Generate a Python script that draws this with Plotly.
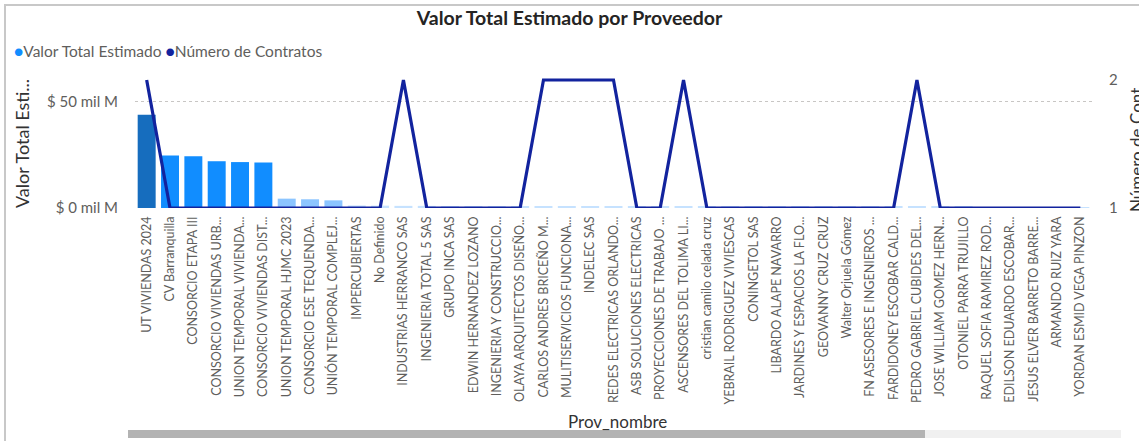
import plotly.graph_objects as go

proveedores = [
    "UT VIVIENDAS 2024", "CV Barranquilla", "CONSORCIO ETAPA III",
    "CONSORCIO VIVIENDAS URB...", "UNION TEMPORAL VIVIENDA...",
    "CONSORCIO VIVIENDAS DIST...", "UNION TEMPORAL HJMC 2023",
    "CONSORCIO ESE TEQUENDA...", "UNIÓN TEMPORAL COMPLEJ...",
    "IMPERCUBIERTAS", "No Definido", "INDUSTRIAS HERRANCO SAS",
    "INGENIERIA TOTAL 5 SAS", "GRUPO INCA SAS", "EDWIN HERNANDEZ LOZANO",
    "INGENIERIA Y CONSTRUCCIO...", "OLAYA ARQUITECTOS DISEÑO...",
    "CARLOS ANDRES BRICEÑO M...", "MULITISERVICIOS FUNCIONA...",
    "INDELEC SAS", "REDES ELECTRICAS ORLANDO...", "ASB SOLUCIONES ELECTRICAS",
    "PROYECCIONES DE TRABAJO ...", "ASCENSORES DEL TOLIMA LI...",
    "cristian camilo celada cruz", "YEBRAIL RODRIGUEZ VIVIESCAS",
    "CONINGETOL SAS", "LIBARDO ALAPE NAVARRO", "JARDINES Y ESPACIOS LA FLO...",
    "GEOVANNY CRUZ CRUZ", "Walter Orjuela Gómez", "FN ASESORES E INGENIEROS ...",
    "FARDIDONEY ESCOBAR CALD...", "PEDRO GABRIEL CUBIDES DEL...",
    "JOSE WILLIAM GOMEZ HERN...", "OTONIEL PARRA TRUJILLO",
    "RAQUEL SOFIA RAMIREZ ROD...", "EDILSON EDUARDO ESCOBAR...",
    "JESUS ELVER BARRETO BARRE...", "ARMANDO RUIZ YARA",
    "YORDAN ESMID VEGA PINZON",
]

# Valor total estimado, en miles de millones ("mil M")
valor_total = [
    43.9, 24.7, 24.4, 22.0, 21.6, 21.4, 4.4, 4.1, 3.6,
    1.2, 1.1, 1.0, 1.0, 0.95, 0.9, 0.9, 0.85, 0.85, 0.8, 0.8,
    0.8, 0.75, 0.75, 0.7, 0.7, 0.7, 0.65, 0.65, 0.6, 0.6,
    0.6, 0.55, 0.55, 0.5, 0.5, 0.5, 0.45, 0.45, 0.4, 0.4, 0.35,
]

numero_contratos = [
    2, 1, 1, 1, 1, 1, 1, 1, 1, 1, 1, 2, 1, 1, 1, 1, 1, 2, 2, 2,
    2, 1, 1, 2, 1, 1, 1, 1, 1, 1, 1, 1, 1, 2, 1, 1, 1, 1, 1, 1, 1,
]

bar_colors = (["#166DBE"] + ["#118DFF"] * 5 + ["#8CC5FF"] * 3
              + ["#C6E2FF"] * (len(proveedores) - 9))

W, H = 1139, 441
L, R, T, B = 135, 47, 74, 233
PW, PH = W - L - R, H - T - B
BOTTOM = H - B


def px_x(x):
    return (x - L) / PW


def px_y(y):
    return (BOTTOM - y) / PH


FONT = "Segoe UI, Lato, sans-serif"
GREY = "#605E5C"
DARK = "#333333"

fig = go.Figure()
fig.add_trace(go.Bar(
    x=proveedores, y=valor_total, name="Valor Total Estimado",
    marker=dict(color=bar_colors, line=dict(width=0)),
    yaxis="y", showlegend=False,
))
fig.add_trace(go.Scatter(
    x=proveedores, y=numero_contratos, name="Número de Contratos",
    mode="lines", line=dict(color="#12239E", width=3.2),
    yaxis="y2", showlegend=False,
))

left_top = 50 * PH / (BOTTOM - 101.7)
right_top = 1 + PH / (BOTTOM - 80)

fig.update_layout(
    width=W, height=H,
    margin=dict(l=L, r=R, t=T, b=B),
    paper_bgcolor="white", plot_bgcolor="white",
    font=dict(family=FONT, color=GREY),
    bargap=0.23,
    showlegend=False,
    title=dict(
        text="<b>Valor Total Estimado por Proveedor</b>",
        x=0.5, xanchor="center", xref="container",
        y=1 - 18 / H, yanchor="middle", yref="container",
        font=dict(family=FONT, size=19.5, color="#252423"),
    ),
    xaxis=dict(
        type="category", tickangle=-90, showgrid=False, showline=False,
        zeroline=False, ticks="", tickfont=dict(size=12.5, color=GREY),
        range=[-0.5, len(proveedores) - 0.5], fixedrange=True,
        ticklabelstandoff=5,
    ),
    yaxis=dict(
        range=[0, left_top], tickvals=[0, 50],
        ticktext=["$ 0 mil M", "$ 50 mil M"],
        showgrid=True, gridcolor="#C8C6C4", griddash="dot", gridwidth=1,
        zeroline=False, showline=False, ticks="",
        tickfont=dict(size=15, color=GREY), ticklabelstandoff=16,
    ),
    yaxis2=dict(
        range=[1, right_top], tickvals=[1, 2], ticktext=["1", "2"],
        overlaying="y", side="right", showgrid=False, zeroline=False,
        showline=False, ticks="", tickfont=dict(size=15, color=GREY),
        ticklabelstandoff=16,
    ),
)

ann = []
ann.append(dict(
    text=("<span style='color:#118DFF'>●</span>Valor Total Estimado "
          "<span style='color:#12239E'>●</span>Número de Contratos"),
    x=px_x(12), y=px_y(51), xref="paper", yref="paper",
    xanchor="left", yanchor="middle", showarrow=False,
    font=dict(family=FONT, size=15.5, color=GREY),
))
ann.append(dict(
    text="Valor Total Esti...", textangle=-90,
    x=px_x(22), y=px_y(144), xref="paper", yref="paper",
    xanchor="center", yanchor="middle", showarrow=False,
    font=dict(family=FONT, size=18, color=DARK),
))
ann.append(dict(
    text="Número de Cont", textangle=-90,
    x=px_x(1136), y=px_y(150), xref="paper", yref="paper",
    xanchor="center", yanchor="middle", showarrow=False,
    font=dict(family=FONT, size=17, color=DARK),
))
ann.append(dict(
    text="Prov_nombre",
    x=px_x(617), y=px_y(421), xref="paper", yref="paper",
    xanchor="center", yanchor="middle", showarrow=False,
    font=dict(family=FONT, size=17, color=DARK),
))
fig.update_layout(annotations=ann)

shapes = [
    # visual border
    dict(type="rect", xref="paper", yref="paper",
         x0=px_x(5), x1=px_x(1145), y0=px_y(5), y1=px_y(450),
         line=dict(color="#C8C8C8", width=2), fillcolor="rgba(0,0,0,0)",
         layer="below"),
    # scrollbar track
    dict(type="rect", xref="paper", yref="paper",
         x0=px_x(128), x1=px_x(1121), y0=px_y(430), y1=px_y(438),
         line=dict(width=0), fillcolor="#F0F0F0"),
    # scrollbar thumb
    dict(type="rect", xref="paper", yref="paper",
         x0=px_x(128), x1=px_x(925), y0=px_y(430), y1=px_y(438),
         line=dict(width=0), fillcolor="#B3B3B3"),
]
fig.update_layout(shapes=shapes)

fig.write_html(
    "out.html",
    config={"displayModeBar": False},
    post_script="document.body.style.margin='0';document.body.style.overflow='hidden';",
)
